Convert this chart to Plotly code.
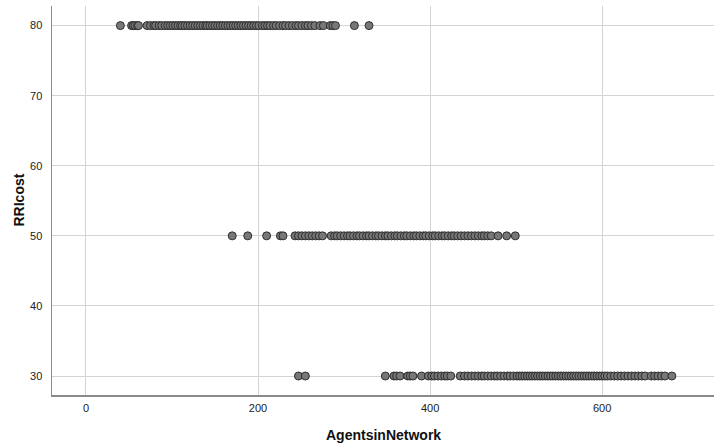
import plotly.graph_objects as go

# RRIcost = 80 group
agents_80 = [40, 53, 55, 57, 60, 61, 71, 75, 79, 81, 85, 88, 92, 95, 98, 101, 104, 107,
             110, 112, 115, 118, 121, 124, 127, 130, 133, 136, 139, 141, 144, 147, 150,
             153, 156, 159, 162, 165, 168, 171, 174, 177, 180, 183, 186, 189, 192, 195,
             198, 201, 205, 208, 211, 214, 218, 221, 225, 229, 232, 236, 240, 244, 247,
             251, 255, 258, 262, 266, 272, 276, 284, 287, 290, 312, 329]
# RRIcost = 50 group
agents_50 = [170, 188, 210, 226, 229, 243, 247, 251, 255, 259, 263, 267, 271, 275, 285,
             289, 292, 296, 300, 304, 307, 311, 315, 318, 322, 326, 329, 333, 337, 340,
             344, 348, 351, 355, 359, 362, 366, 370, 373, 377, 381, 384, 388, 392, 395,
             399, 403, 406, 410, 414, 417, 421, 425, 428, 432, 436, 440, 444, 448, 452,
             456, 460, 463, 467, 471, 479, 489, 499]
# RRIcost = 30 group
agents_30 = [247, 255, 348, 358, 361, 365, 374, 377, 380, 390, 398, 402, 405, 409, 413,
             417, 420, 424, 435, 440, 444, 448, 452, 456, 460, 463, 467, 471, 475, 478,
             482, 486, 490, 493, 497, 501, 504, 507, 510, 513, 516, 519, 522, 525, 528,
             531, 534, 537, 540, 543, 546, 549, 552, 555, 558, 561, 564, 567, 570, 573,
             576, 579, 582, 585, 588, 591, 594, 597, 600, 603, 606, 610, 614, 618, 622,
             626, 630, 634, 638, 642, 646, 650, 657, 661, 665, 669, 673, 681]

x_vals = agents_80 + agents_50 + agents_30
y_vals = [80] * len(agents_80) + [50] * len(agents_50) + [30] * len(agents_30)

x_ticks = [0, 200, 400, 600]
y_ticks = [30, 40, 50, 60, 70, 80]

fig = go.Figure()
fig.add_trace(go.Scatter(
    x=x_vals, y=y_vals, mode="markers",
    marker=dict(size=8, color="#777777", line=dict(color="#2e2e2e", width=1)),
    showlegend=False, hoverinfo="x+y",
))

font_family = "Liberation Sans, Arial, sans-serif"
fig.update_layout(
    width=715, height=443,
    margin=dict(l=52, r=1, t=6, b=48),
    paper_bgcolor="white", plot_bgcolor="white",
    font=dict(family=font_family, size=11, color="#222222"),
    xaxis=dict(range=[-39.5, 730], tickvals=x_ticks, showgrid=True,
               gridcolor="#d4d4d4", gridwidth=1, zeroline=False,
               showline=True, linecolor="#8a8a8a", linewidth=1.5,
               ticks="", ticklabelstandoff=2,
               tickfont=dict(size=11, color="#222222")),
    yaxis=dict(range=[27.29, 82.8], tickvals=y_ticks, showgrid=True,
               gridcolor="#d4d4d4", gridwidth=1, zeroline=False,
               showline=True, linecolor="#8a8a8a", linewidth=1.5,
               ticks="", ticklabelstandoff=6,
               tickfont=dict(size=11, color="#222222")),
    annotations=[
        dict(text="<b>AgentsinNetwork</b>", xref="paper", yref="paper",
             x=0.5, y=0, xanchor="center", yanchor="middle", yshift=-40,
             showarrow=False, font=dict(size=14, color="#111111", family=font_family)),
        dict(text="<b>RRIcost</b>", xref="paper", yref="paper",
             x=0, y=0.5, xanchor="center", yanchor="middle", xshift=-34,
             textangle=-90, showarrow=False,
             font=dict(size=14, color="#111111", family=font_family)),
    ],
)

fig.write_html("out.html",
               config={"displayModeBar": False, "staticPlot": True},
               post_script="document.body.style.margin='0';document.body.style.overflow='hidden';")
